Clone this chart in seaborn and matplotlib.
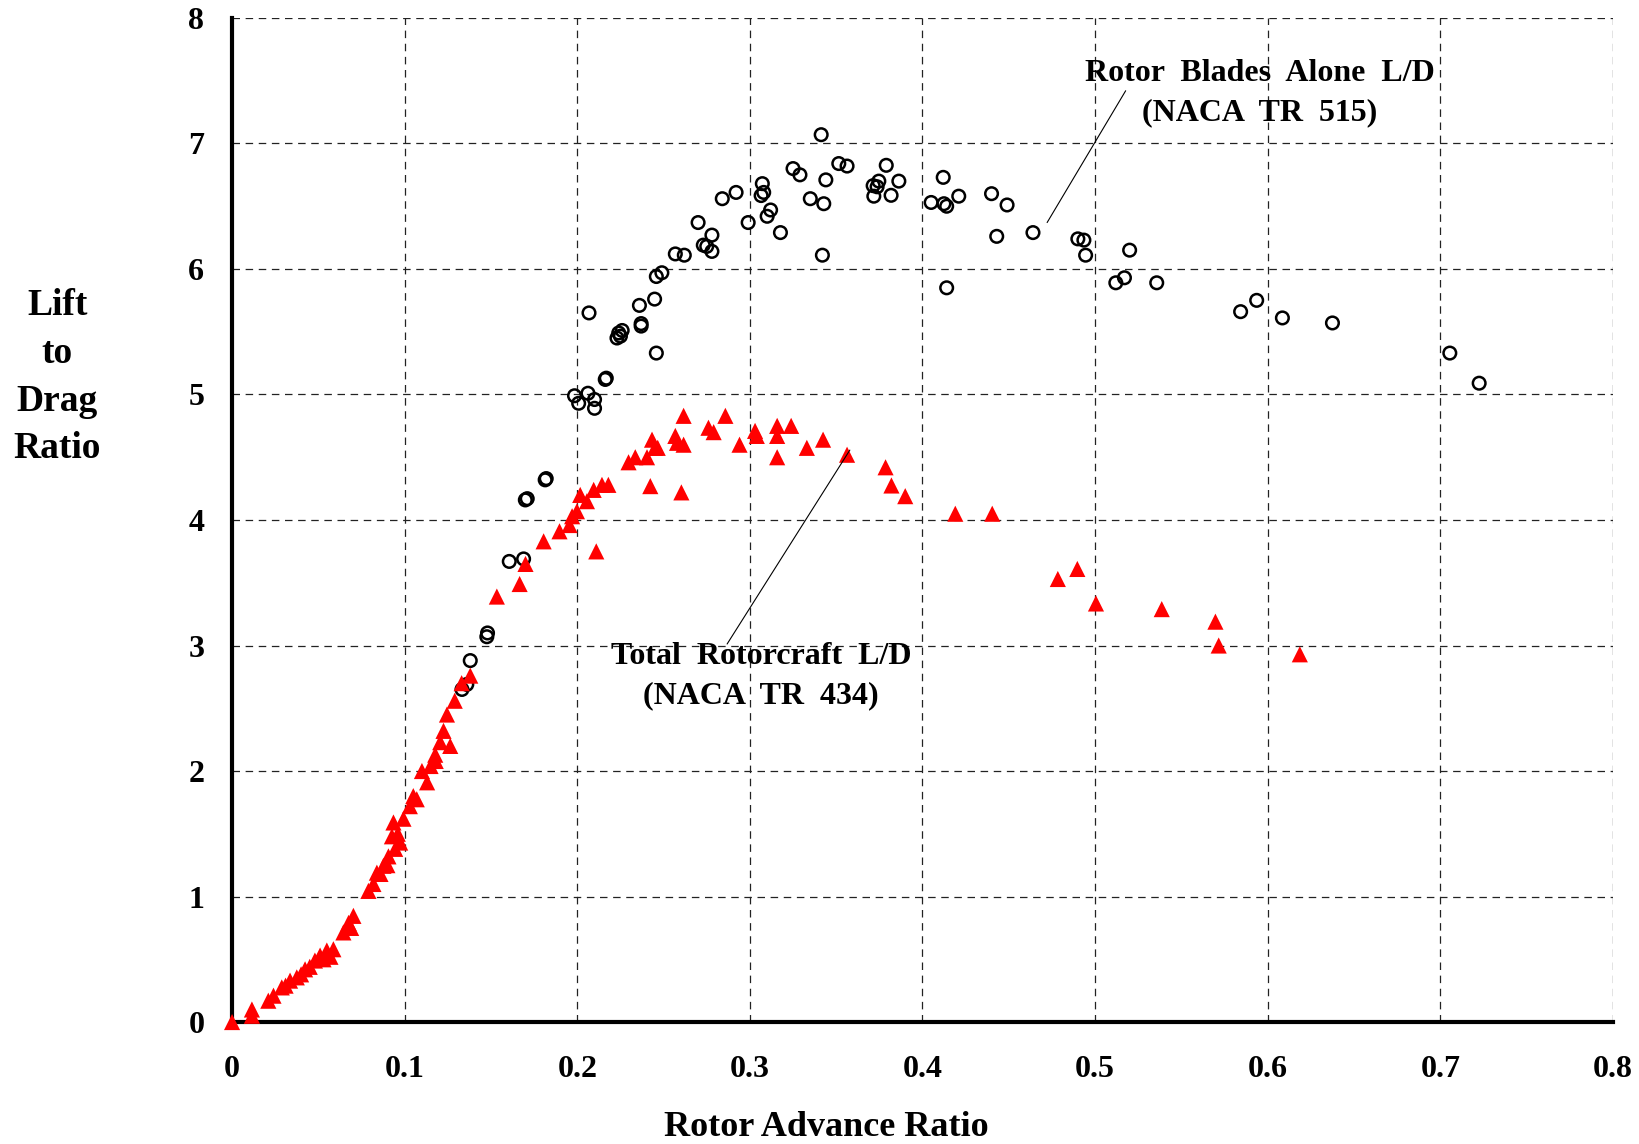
import matplotlib
matplotlib.use("Agg")
import matplotlib.pyplot as plt
import seaborn as sns

# Rotor blades alone L/D (NACA TR 515) - open circles
circ_x = [0.1332, 0.136, 0.138, 0.1476, 0.148, 0.1606, 0.1689, 0.1699, 0.171, 0.1814, 0.182,
          0.1984, 0.2008, 0.2062, 0.210, 0.210, 0.2068, 0.2162, 0.2168,
          0.223, 0.224, 0.225, 0.226, 0.236, 0.237, 0.237, 0.2448, 0.2458, 0.2458, 0.249,
          0.2568, 0.262, 0.270, 0.273, 0.275, 0.278, 0.278, 0.284, 0.292, 0.299,
          0.3065, 0.3072, 0.308, 0.310, 0.312, 0.3177, 0.325, 0.329, 0.335, 0.3413,
          0.342, 0.3428, 0.344, 0.3515, 0.3563,
          0.3714, 0.3718, 0.3737, 0.3747, 0.379, 0.3818, 0.3863,
          0.405, 0.412, 0.4124, 0.414, 0.414, 0.421, 0.440, 0.443, 0.449, 0.464,
          0.490, 0.4935, 0.4945, 0.512, 0.517, 0.520, 0.5357, 0.5843, 0.5936, 0.6085,
          0.6375, 0.7055, 0.7225]
circ_y = [2.65, 2.69, 2.88, 3.07, 3.10, 3.67, 3.69, 4.16, 4.17, 4.32, 4.33,
          4.99, 4.93, 5.01, 4.96, 4.89, 5.65, 5.12, 5.13,
          5.45, 5.49, 5.465, 5.51, 5.71, 5.565, 5.545, 5.76, 5.33, 5.94, 5.97,
          6.12, 6.11, 6.37, 6.19, 6.18, 6.27, 6.14, 6.56, 6.61, 6.37,
          6.585, 6.68, 6.61, 6.42, 6.47, 6.29, 6.80, 6.75, 6.56, 7.07,
          6.11, 6.52, 6.71, 6.84, 6.82,
          6.664, 6.58, 6.655, 6.70, 6.826, 6.587, 6.70,
          6.53, 6.73, 6.52, 6.50, 5.85, 6.58, 6.60, 6.26, 6.51, 6.29,
          6.24, 6.23, 6.11, 5.89, 5.93, 6.15, 5.89, 5.66, 5.75, 5.61,
          5.57, 5.33, 5.09]

# Total rotorcraft L/D (NACA TR 434) - red triangles
tri_x = [0.0, 0.0115, 0.0115, 0.021, 0.024, 0.0288, 0.031, 0.0336, 0.0375, 0.040, 0.0423,
         0.045, 0.048, 0.051, 0.053, 0.0549, 0.057, 0.0587, 0.0645, 0.0675, 0.069, 0.0703,
         0.079, 0.0819, 0.0839, 0.086, 0.0877, 0.090, 0.0906, 0.0926, 0.0935, 0.0945,
         0.096, 0.0974, 0.0993, 0.103, 0.105, 0.107, 0.110, 0.113, 0.115, 0.1177, 0.118,
         0.1206, 0.1225, 0.1245, 0.1264, 0.129, 0.133, 0.138,
         0.1534, 0.1666, 0.170, 0.1805, 0.1897, 0.1955, 0.197, 0.1998, 0.2017, 0.2056,
         0.2095, 0.211, 0.2143, 0.218, 0.2297, 0.2336, 0.2404, 0.2423, 0.2433, 0.245,
         0.2466, 0.2568, 0.2578, 0.2603, 0.2616, 0.2616, 0.276, 0.279, 0.2858, 0.294,
         0.303, 0.304, 0.3158, 0.3158, 0.3158, 0.3239, 0.333, 0.3424, 0.3563,
         0.3786, 0.382, 0.390, 0.419, 0.4404, 0.4784, 0.4897, 0.5005, 0.5386,
         0.5697, 0.5716, 0.6186]
tri_y = [0.0, 0.10, 0.05, 0.17, 0.21, 0.276, 0.29, 0.33, 0.356, 0.38, 0.42,
         0.44, 0.49, 0.53, 0.50, 0.57, 0.52, 0.58, 0.714, 0.79, 0.75, 0.846,
         1.045, 1.10, 1.19, 1.18, 1.245, 1.25, 1.32, 1.48, 1.59, 1.38,
         1.50, 1.43, 1.62, 1.72, 1.80, 1.775, 2.00, 1.91, 2.04, 2.13, 2.08,
         2.23, 2.32, 2.45, 2.20, 2.56, 2.70, 2.76,
         3.39, 3.49, 3.65, 3.83, 3.91, 3.96, 4.03, 4.07, 4.20, 4.15,
         4.24, 3.75, 4.28, 4.28, 4.46, 4.50, 4.50, 4.27, 4.64, 4.575,
         4.575, 4.67, 4.615, 4.22, 4.83, 4.60, 4.735, 4.70, 4.83, 4.60,
         4.71, 4.67, 4.75, 4.67, 4.50, 4.75, 4.575, 4.64, 4.52,
         4.42, 4.275, 4.19, 4.05, 4.05, 3.53, 3.61, 3.335, 3.29,
         3.19, 3.00, 2.93]

x_ticks = [0, 0.1, 0.2, 0.3, 0.4, 0.5, 0.6, 0.7, 0.8]
x_ticklabels = ["0", "0.1", "0.2", "0.3", "0.4", "0.5", "0.6", "0.7", "0.8"]
y_ticks = [0, 1, 2, 3, 4, 5, 6, 7, 8]

sns.set_style("white")
plt.rcParams['font.family'] = ['Liberation Serif', 'DejaVu Serif']
plt.rcParams['font.weight'] = 'bold'
plt.rcParams['text.color'] = 'black'
plt.rcParams['axes.labelcolor'] = 'black'
plt.rcParams['xtick.color'] = 'black'
plt.rcParams['ytick.color'] = 'black'

fig = plt.figure(figsize=(16.4, 11.44), dpi=100)
ax = fig.add_axes([0.1415, 0.1066, 0.842, 0.8777])

sns.scatterplot(x=circ_x, y=circ_y, ax=ax, marker='o', s=82, facecolor='none',
                edgecolor='black', linewidth=1.8, zorder=3, clip_on=False)
sns.scatterplot(x=tri_x, y=tri_y, ax=ax, marker='^', s=135, color='#ff0000',
                edgecolor='none', linewidth=0, zorder=5, clip_on=False)

ax.set_xlim(0, 0.8)
ax.set_ylim(0, 8)
ax.set_xticks(x_ticks)
ax.set_xticklabels(x_ticklabels)
ax.set_yticks(y_ticks)
ax.tick_params(direction='in', length=8, width=2.5, labelsize=23, color='black',
               labelcolor='black')
ax.tick_params(axis='x', pad=24)
ax.tick_params(axis='y', pad=20)
for lab in ax.get_xticklabels() + ax.get_yticklabels():
    lab.set_fontweight('bold')

ax.grid(True, color='#222222', linestyle=(0, (6, 4.5)), linewidth=0.9)
ax.set_axisbelow(True)
for side in ['top', 'right']:
    ax.spines[side].set_visible(False)
for side in ['left', 'bottom']:
    ax.spines[side].set_linewidth(3)
    ax.spines[side].set_color('black')
    ax.spines[side].set_zorder(4)

ax.set_xlabel("Rotor Advance Ratio", fontsize=26, fontweight='bold', va='center')
ax.xaxis.set_label_coords(0.43, -0.1050)
ax.set_ylabel("Lift\nto\nDrag\nRatio", fontsize=27, fontweight='bold', rotation=0,
              ha='center', va='center', multialignment='center', linespacing=1.48)
ax.yaxis.set_label_coords(-0.1267, 0.6424)

# annotations with leader lines
ax.text(0.5954, 7.40, "Rotor  Blades  Alone  L/D\n(NACA  TR  515)", fontsize=23,
        fontweight='bold', ha='center', va='center', multialignment='center', linespacing=1.46)
ax.plot([0.5177, 0.4722], [7.42, 6.37], color='black', linewidth=0.8, zorder=6)

ax.text(0.3066, 2.755, "Total  Rotorcraft  L/D\n(NACA  TR  434)", fontsize=23,
        fontweight='bold', ha='center', va='center', multialignment='center', linespacing=1.46)
ax.plot([0.2868, 0.3579], [3.012, 4.557], color='black', linewidth=0.8, zorder=6)

fig.savefig("out.png", dpi=100)
